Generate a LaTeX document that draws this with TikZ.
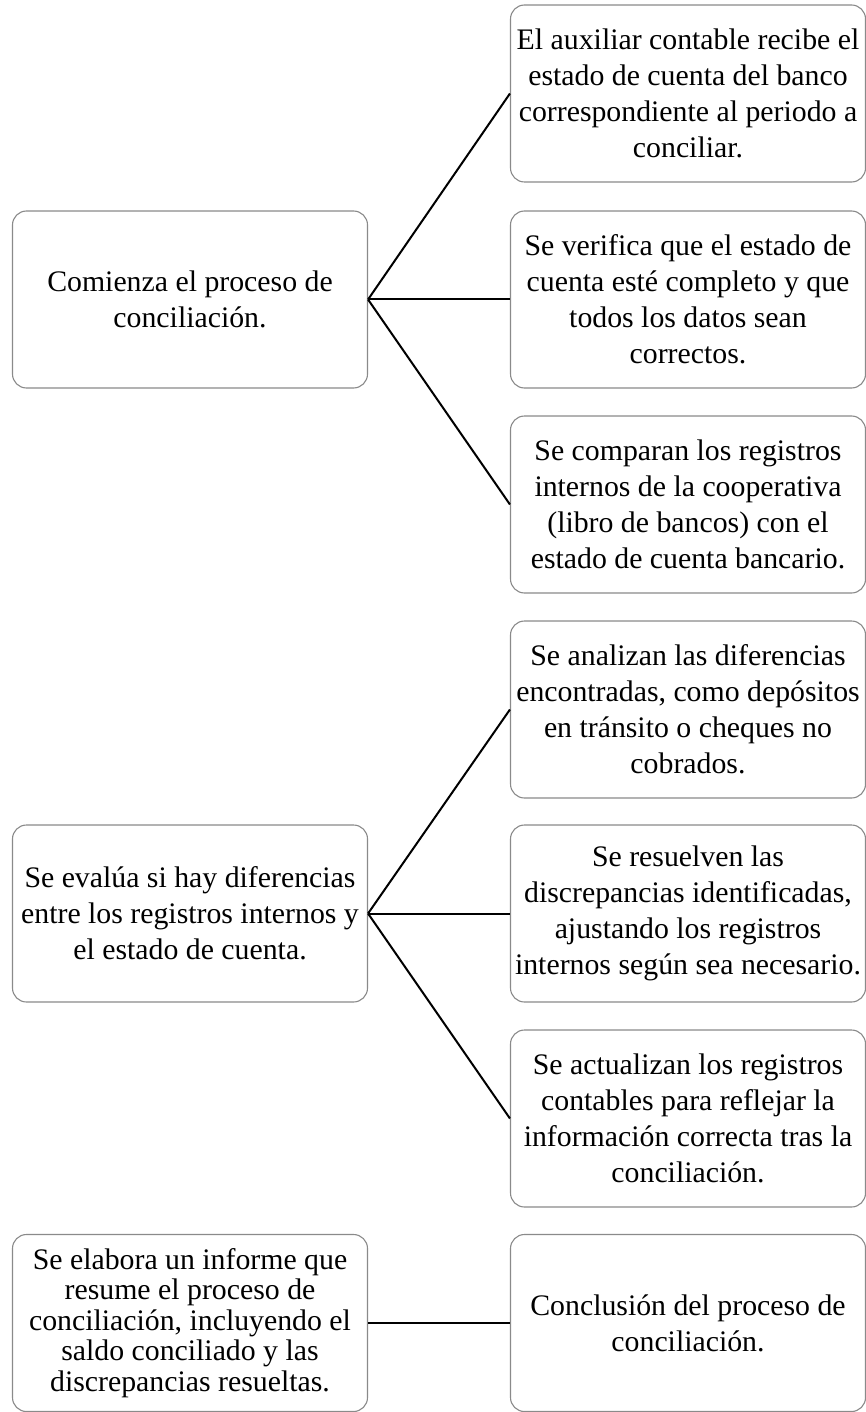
\documentclass[tikz,border=0pt]{standalone}
\usepackage{fontspec}
\setmainfont{Liberation Serif}
\definecolor{boxgray}{HTML}{8A8A8A}
\tikzset{
  procbox/.style={draw=boxgray, line width=1.1pt, rounded corners=14pt, fill=white,
    minimum width=355pt, minimum height=177pt, align=center, inner sep=0pt,
    font=\fontsize{29.8pt}{36pt}\selectfont},
  tightbox/.style={procbox, font=\fontsize{29.8pt}{30.5pt}\selectfont},
  link/.style={draw=black, line width=2pt}
}
\begin{document}
\begin{tikzpicture}[x=1pt,y=1pt]
\useasboundingbox (0,0) rectangle (866,-1412);
% left column
\node[procbox] (L1) at (190,-299.5) {Comienza el proceso de\\conciliación.};
\node[procbox] (L2) at (190,-913.5) {Se evalúa si hay diferencias\\entre los registros internos y\\el estado de cuenta.};
\node[tightbox] (L3) at (190,-1323) {Se elabora un informe que\\resume el proceso de\\conciliación, incluyendo el\\saldo conciliado y las\\discrepancias resueltas.};
% right column
\node[procbox] (R1) at (688,-93.5) {El auxiliar contable recibe el\\estado de cuenta del banco\\correspondiente al periodo a\\conciliar.};
\node[procbox] (R2) at (688,-299.5) {Se verifica que el estado de\\cuenta esté completo y que\\todos los datos sean\\correctos.};
\node[procbox] (R3) at (688,-504.5) {Se comparan los registros\\internos de la cooperativa\\(libro de bancos) con el\\estado de cuenta bancario.};
\node[procbox] (R4) at (688,-709.5) {Se analizan las diferencias\\encontradas, como depósitos\\en tránsito o cheques no\\cobrados.};
\node[procbox] (R5) at (688,-913.5) {Se resuelven las\\discrepancias identificadas,\\ajustando los registros\\internos según sea necesario.};
\node[procbox] (R6) at (688,-1118.5) {Se actualizan los registros\\contables para reflejar la\\información correcta tras la\\conciliación.};
\node[procbox] (R7) at (688,-1323) {Conclusión del proceso de\\conciliación.};
% connectors
\draw[link] (L1.east) -- (R1.west);
\draw[link] (L1.east) -- (R2.west);
\draw[link] (L1.east) -- (R3.west);
\draw[link] (L2.east) -- (R4.west);
\draw[link] (L2.east) -- (R5.west);
\draw[link] (L2.east) -- (R6.west);
\draw[link] (L3.east) -- (R7.west);
\end{tikzpicture}
\end{document}
